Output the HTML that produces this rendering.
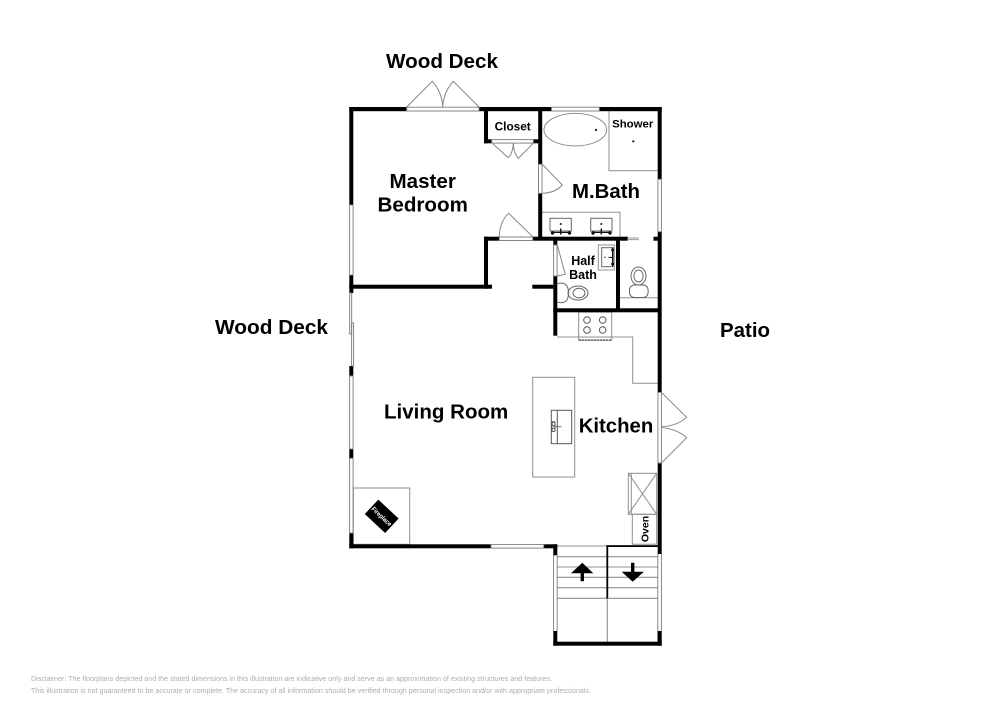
<!DOCTYPE html>
<html><head><meta charset="utf-8"><style>
html,body{margin:0;padding:0;background:#fff}
svg{display:block}
text{font-family:"Liberation Sans",sans-serif;font-weight:bold;fill:#000}
.d{font-weight:normal;fill:#adadad;font-size:7px}
.g{fill:none;stroke:#808080;stroke-width:.95}
.l{fill:none;stroke:#8f8f8f;stroke-width:1}
.w{fill:#000}
</style></head><body>
<svg width="1000" height="707" viewBox="0 0 1000 707" xmlns="http://www.w3.org/2000/svg">
<rect width="1000" height="707" fill="#fff"/>
<!-- fixtures -->
<g class="l">
<path d="M609 111V170.7H657.5"/>
<ellipse cx="575.3" cy="129.7" rx="31.3" ry="16.3"/>
<path d="M542 212.3H620V237"/>
<rect x="550" y="218.3" width="21.3" height="12.7" stroke="#666"/>
<rect x="590.7" y="218.3" width="21.3" height="12.7" stroke="#666"/>
<rect x="598.3" y="245" width="16" height="25"/>
<rect x="601.7" y="247.7" width="11" height="19" stroke="#666"/>
<path d="M620 297.7H657.7"/>
<rect x="578.7" y="312" width="33" height="28.3"/>
<path d="M557 337H632.7V383.3H658"/>
<rect x="532.7" y="377.3" width="42" height="99.7"/>
<rect x="551.3" y="410.3" width="20.4" height="33.4" stroke="#555"/>
<path d="M557.3 410.3V443.7" stroke="#555"/>
<rect x="353.3" y="488" width="56.4" height="56.3"/>
<rect x="628.3" y="473.3" width="28.4" height="41"/>
<path d="M628.3 473.3L656.7 514.3M656.7 473.3L628.3 514.3M631.3 473.3V514.3"/>
<rect x="632.3" y="514.3" width="24.4" height="29.9"/>
<circle cx="587" cy="320" r="3.3" stroke="#555"/><circle cx="602.7" cy="320" r="3.3" stroke="#555"/>
<circle cx="587" cy="330" r="3.3" stroke="#555"/><circle cx="602.7" cy="330" r="3.3" stroke="#555"/>
<!-- toilets -->
<ellipse cx="578" cy="293" rx="10" ry="7" stroke="#666"/>
<ellipse cx="579" cy="293" rx="6" ry="4.8" stroke="#666"/>
<path d="M557.5 283.5C565 282 568.5 285 568.5 293S565 304 557.5 302.2" stroke="#666"/>
<ellipse cx="638.5" cy="276" rx="7.5" ry="9" stroke="#666"/>
<ellipse cx="638.5" cy="276" rx="4.6" ry="6" stroke="#666"/>
<rect x="629.5" y="285" width="18.6" height="12.5" rx="5" stroke="#666"/>
<!-- stairs -->
<path d="M557.3 546H658M557.3 556.7H658M557.3 567H658M557.3 577.3H658M557.3 587.7H658M557.3 598.3H658M607.3 598V642" stroke="#909090" stroke-width="1.1"/>
</g>
<!-- small black details -->
<g fill="#111">
<circle cx="596" cy="130" r="1.1"/><circle cx="633.3" cy="141.3" r="1.1"/>
<circle cx="560.7" cy="224" r="1"/><circle cx="601.3" cy="224" r="1"/>
<rect x="552" y="231.8" width="18" height="1.2"/><rect x="560" y="228.5" width="1.4" height="6"/>
<rect x="592.5" y="231.8" width="18" height="1.2"/><rect x="600.6" y="228.5" width="1.4" height="6"/>
<circle cx="552.5" cy="233" r="1.7"/><circle cx="569.5" cy="233" r="1.7"/><circle cx="593" cy="233" r="1.7"/><circle cx="610" cy="233" r="1.7"/>
<rect x="612" y="247.5" width="1.5" height="19"/><rect x="608.5" y="256.9" width="4.5" height="1"/>
<circle cx="605" cy="257.3" r=".7"/>
<circle cx="612.6" cy="250" r="1.5"/><circle cx="612.6" cy="264" r="1.5"/>
</g>
<g fill="none" stroke="#555" stroke-width=".8">
<path d="M553 426.8H561.7"/>
<rect x="552" y="421.5" width="3" height="10" rx="1.4"/>
<circle cx="553.5" cy="424" r="1.6"/><circle cx="553.5" cy="430" r="1.6"/>
</g>
<path d="M579 340H611" stroke="#333" stroke-width="1" stroke-dasharray="2 1" fill="none"/>
<!-- walls -->
<g class="w">
<!-- top -->
<rect x="349.3" y="107" width="57.4" height="4.2"/>
<rect x="479" y="107" width="72.5" height="4.2"/>
<rect x="599.3" y="107" width="62.4" height="4.2"/>
<!-- left -->
<rect x="349.3" y="107" width="4" height="98"/>
<rect x="349.3" y="275" width="4" height="18"/>
<rect x="349.3" y="366" width="4" height="10"/>
<rect x="349.3" y="449" width="4" height="9.3"/>
<rect x="349.3" y="533" width="4" height="15.3"/>
<!-- bottom -->
<rect x="349.3" y="544.3" width="141.7" height="4"/>
<rect x="543.7" y="544.3" width="13.6" height="4"/>
<rect x="553.3" y="544.3" width="4" height="11"/>
<!-- right -->
<rect x="657.7" y="107" width="4" height="72.3"/>
<rect x="657.7" y="231.7" width="4" height="160.7"/>
<rect x="657.7" y="463" width="4" height="91"/>
<!-- closet -->
<rect x="484" y="107" width="4" height="36.3"/>
<rect x="484" y="139.3" width="8" height="4"/>
<rect x="533.3" y="139.3" width="8" height="4"/>
<!-- bedroom/bath -->
<rect x="538.2" y="107" width="4" height="57.3"/>
<rect x="538.2" y="193.3" width="4" height="47"/>
<rect x="484" y="236.7" width="15.3" height="4"/>
<rect x="532.7" y="236.7" width="95" height="4"/>
<rect x="653.5" y="236.7" width="6" height="4"/>
<rect x="484" y="236.7" width="4" height="52"/>
<rect x="349.3" y="284.7" width="142.7" height="4"/>
<rect x="532.3" y="284.7" width="21" height="4"/>
<!-- half bath -->
<rect x="553.3" y="240" width="4" height="5"/>
<rect x="553.3" y="276" width="4" height="59.7"/>
<rect x="616" y="240" width="4" height="70"/>
<rect x="553.3" y="308.3" width="108" height="4"/>
<!-- stairs -->
<rect x="657.5" y="631" width="4.2" height="14.7"/>
<rect x="553.3" y="631" width="4" height="14.7"/>
<rect x="553.3" y="641.7" width="108.4" height="4"/>
<rect x="606.4" y="545.4" width="1.8" height="53"/>
<rect x="606.4" y="545.2" width="51.5" height="1.8"/>
<!-- arrows -->
<path d="M582.3 562.7L593.3 573.3H584V581.3H580.6V573.3H571Z"/>
<path d="M632.7 581.7L621.7 571.7H631V562.7H634.4V571.7H644Z"/>
</g>
<!-- windows & doors -->
<g class="g">
<rect x="551.5" y="107.2" width="47.8" height="3.8"/>
<rect x="349.6" y="205" width="3.5" height="70"/>
<rect x="349.7" y="293" width="2" height="41"/>
<rect x="351.6" y="323" width="2" height="43"/>
<rect x="349.6" y="376" width="3.5" height="73"/>
<rect x="349.6" y="458.3" width="3.5" height="74.7"/>
<rect x="491" y="544.6" width="52.7" height="3.5"/>
<rect x="657.9" y="179.3" width="3.5" height="52.4"/>
<rect x="406.7" y="107.2" width="72.3" height="3.8"/>
<path d="M406.7 107L432.3 81.3Q442 92 442.7 107M479 107L453.3 81.3Q443.5 92 442.7 107"/>
<rect x="491.7" y="139.6" width="41.6" height="3.5"/>
<path d="M492.3 143.3L508.3 157.7Q513 153 513.3 143.3M533.3 143.3L518.3 158.3Q513.6 153 513.3 143.3"/>
<rect x="538.5" y="164.3" width="3.5" height="29"/>
<path d="M542.3 164.3L562.3 185Q555 193 542.3 193.3"/>
<rect x="499.3" y="237" width="33.4" height="3.5"/>
<path d="M532.7 236.7L508.7 213.3Q499.5 222 499.3 236.7"/>
<rect x="553.6" y="245" width="3.5" height="31"/>
<path d="M557.3 245L565.3 274.3L557.3 276"/>
<path d="M628 238H639M628 239.6H639" stroke="#999"/>
<rect x="657.9" y="392.4" width="3.5" height="70.6"/>
<path d="M661.7 392.7L686.7 417.3Q677 426 661.7 426.7M661.7 462.7L686.7 437.7Q677 429 661.7 427.7"/>
<path d="M553.6 555V631M557.2 555V631M657.8 554V631M661.4 554V631"/>
</g>
<!-- fireplace -->
<rect x="-13.9" y="-9.9" width="27.8" height="19.8" fill="#000" transform="translate(381.7 516.3) rotate(43)"/>
<text x="0" y="2.3" text-anchor="middle" font-size="6.5" style="fill:#fff" textLength="25" lengthAdjust="spacingAndGlyphs" transform="translate(381.7 516.3) rotate(43)">Fireplace</text>
<!-- labels -->
<text x="386" y="68" font-size="20.6" textLength="112" lengthAdjust="spacingAndGlyphs">Wood Deck</text>
<text x="215" y="334" font-size="20.6" textLength="113" lengthAdjust="spacingAndGlyphs">Wood Deck</text>
<text x="720" y="337" font-size="20.6" textLength="50" lengthAdjust="spacingAndGlyphs">Patio</text>
<text x="422.7" y="188" font-size="20.6" text-anchor="middle">Master</text>
<text x="422.7" y="211.7" font-size="20.6" text-anchor="middle">Bedroom</text>
<text x="572" y="198" font-size="20.6" textLength="68" lengthAdjust="spacingAndGlyphs">M.Bath</text>
<text x="384" y="418.7" font-size="20.6" textLength="124.3" lengthAdjust="spacingAndGlyphs">Living Room</text>
<text x="578.7" y="432.3" font-size="20.6" textLength="74.6" lengthAdjust="spacingAndGlyphs">Kitchen</text>
<text x="583" y="265" font-size="12.5" text-anchor="middle">Half</text>
<text x="583" y="279" font-size="12.5" text-anchor="middle">Bath</text>
<text x="512.7" y="130.3" font-size="11.8" text-anchor="middle">Closet</text>
<text x="632.7" y="127.7" font-size="11.4" text-anchor="middle">Shower</text>
<text x="0" y="0" font-size="10.5" text-anchor="middle" transform="translate(648.6 529) rotate(-90)">Oven</text>
<text class="d" x="31" y="681" textLength="521" lengthAdjust="spacingAndGlyphs">Disclaimer: The floorplans depicted and the stated dimensions in this illustration are indicative only and serve as an approximation of existing structures and features.</text>
<text class="d" x="31" y="693" textLength="560" lengthAdjust="spacingAndGlyphs">This illustration is not guaranteed to be accurate or complete. The accuracy of all information should be verified through personal inspection and/or with appropriate professionals.</text>
</svg>
</body></html>
